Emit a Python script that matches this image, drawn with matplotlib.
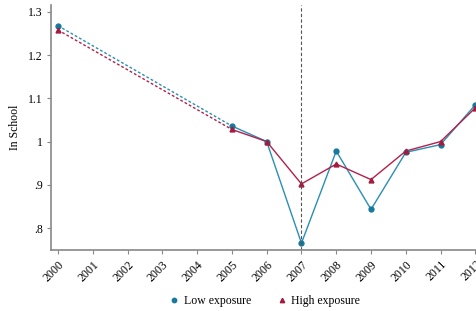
import matplotlib
matplotlib.use("Agg")
from matplotlib import pyplot as plt

plt.rcParams['font.family'] = ['Liberation Serif', 'DejaVu Serif']

years = [2000, 2005, 2006, 2007, 2008, 2009, 2010, 2011, 2012]
low = [1.268, 1.036, 1.000, 0.765, 0.978, 0.843, 0.975, 0.993, 1.085]
high = [1.258, 1.028, 1.000, 0.902, 0.948, 0.912, 0.978, 1.000, 1.078]
xticks = list(range(2000, 2013))
yticks = [0.8, 0.9, 1.0, 1.1, 1.2, 1.3]
ylabels = ['.8', '.9', '1', '1.1', '1.2', '1.3']

c_low = '#2a8fb4'
c_low_m = '#17799c'
c_high = '#b3204a'
c_high_m = '#a51a3f'

fig = plt.figure(figsize=(4.77, 3.11), dpi=100)
ax = fig.add_axes([0.107, 0.196, 0.891, 0.788])

# dashed part 2000 -> 2005 (gap years)
ax.plot(years[:2], low[:2], color=c_low, ls=(0, (2, 1.5)), lw=1)
ax.plot(years[:2], high[:2], color=c_high, ls=(0, (2, 1.5)), lw=1)
# solid part
ax.plot(years[1:], low[1:], color=c_low, lw=1)
ax.plot(years[1:], high[1:], color=c_high, lw=1)
ax.plot(years, low, ls='none', marker='o', ms=3.5, color=c_low_m, label='Low exposure')
ax.plot(years, high, ls='none', marker='^', ms=3.5, color=c_high_m, label='High exposure')

ax.axvline(2007, color='#555555', ls=(0, (3, 2)), lw=0.8)

ax.set_xlim(1999.8, 2012.02)
ax.set_ylim(0.749, 1.316)
ax.set_xticks(xticks)
ax.set_xticklabels([str(x) for x in xticks], rotation=45, ha='right', rotation_mode='anchor', fontsize=8.5)
ax.set_yticks(yticks)
ax.set_yticklabels(ylabels, fontsize=8.5)
ax.set_ylabel('In School', fontsize=8.5)
ax.yaxis.set_label_coords(-0.07, 0.5)

for s in ['top', 'right']:
    ax.spines[s].set_visible(False)
for s in ['left', 'bottom']:
    ax.spines[s].set_color('#888888')
    ax.spines[s].set_linewidth(1.2)
ax.tick_params(color='#888888', length=3, width=0.8, pad=3)

fig.legend(loc='lower center', bbox_to_anchor=(0.555, -0.022), ncol=2, frameon=False,
           fontsize=8.5, handlelength=0.8, handletextpad=0.4, columnspacing=2.2, markerscale=0.9)

plt.savefig('out.png', dpi=100)
